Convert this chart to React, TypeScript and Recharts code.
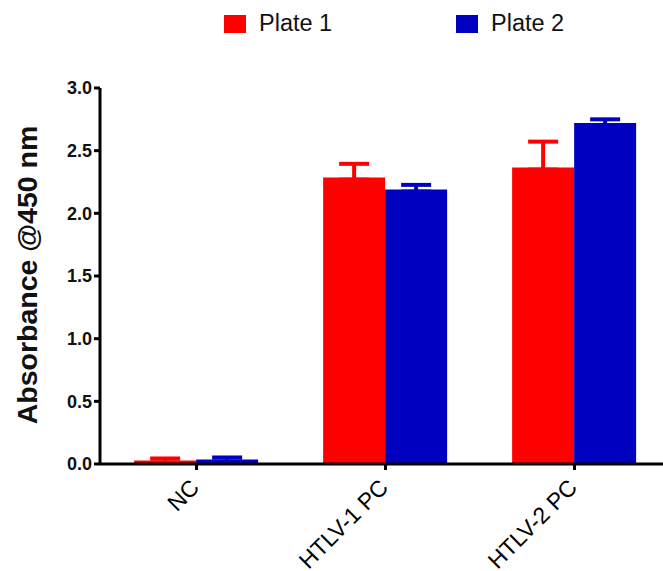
import React from 'react'
import { BarChart, Bar, XAxis, YAxis, ErrorBar, Legend } from 'recharts'

const categories = ['NC', 'HTLV-1 PC', 'HTLV-2 PC']
const plate1 = [0.027, 2.285, 2.365]
const plate2 = [0.035, 2.19, 2.72]
const plate1Err = [0.017, 0.11, 0.207]
const plate2Err = [0.017, 0.037, 0.03]
const yTicks = [0, 0.5, 1.0, 1.5, 2.0, 2.5, 3.0]

const RED = '#ff0000'
const BLUE = '#0000c0'
const FONT = '"Liberation Sans", Arial, sans-serif'

// errors only go upward; the small low side keeps the lower cap inside the bar
const data = categories.map((name, i) => ({
  name,
  plate1: plate1[i],
  plate2: plate2[i],
  err1: [0.016, plate1Err[i]],
  err2: [0.016, plate2Err[i]],
}))

function XTick(props: any) {
  const { x, y, payload } = props
  const tx = x + 4
  const ty = y + 17
  return (
    <text
      x={tx}
      y={ty}
      transform={`rotate(-45, ${tx}, ${ty})`}
      textAnchor="end"
      fontSize={23}
      fontFamily={FONT}
      fill="#000"
    >
      {payload.value}
    </text>
  )
}

function LegendBox(props: any) {
  const items = props.payload ?? []
  return (
    <div style={{ display: 'flex', paddingLeft: 224, fontFamily: FONT, fontSize: 23.5, color: '#111' }}>
      {items.map((it: any, i: number) => (
        <div key={i} style={{ display: 'flex', alignItems: 'center', width: i === 0 ? 232 : 'auto' }}>
          <span style={{ display: 'inline-block', width: 22, height: 18, background: it.color, marginRight: 13 }} />
          <span>{it.value}</span>
        </div>
      ))}
    </div>
  )
}

function YLabel() {
  return (
    <text
      x={37}
      y={275}
      transform="rotate(-90, 37, 275)"
      textAnchor="middle"
      fontSize={28.5}
      fontWeight="bold"
      fontFamily={FONT}
      fill="#111"
    >
      Absorbance @450 nm
    </text>
  )
}

export default function App() {
  return (
    <div style={{ position: 'absolute', left: 0, top: 0, width: 663, height: 571, overflow: 'hidden', background: '#fff' }}>
      <BarChart
        width={670}
        height={571}
        data={data}
        margin={{ top: 88, right: 0, left: 0, bottom: 0 }}
        barCategoryGap="17%"
        barGap={0}
      >
        <Legend
          verticalAlign="middle"
          content={<LegendBox />}
          wrapperStyle={{ top: 10, left: 0, width: 663 }}
        />
        <XAxis
          dataKey="name"
          height={107}
          padding={{ left: 2, right: 1 }}
          axisLine={{ stroke: '#000', strokeWidth: 3 }}
          tickLine={{ stroke: '#000', strokeWidth: 3 }}
          tickSize={6}
          tick={<XTick />}
          interval={0}
        />
        <YAxis
          width={100}
          domain={[0, 3]}
          ticks={yTicks}
          tickFormatter={(v: number) => v.toFixed(1)}
          axisLine={{ stroke: '#000', strokeWidth: 3 }}
          tickLine={{ stroke: '#000', strokeWidth: 3 }}
          tickSize={6}
          tick={{ fill: '#111', fontSize: 18, fontWeight: 'bold', fontFamily: FONT }}
          label={() => <YLabel />}
        />
        <Bar dataKey="plate1" name="Plate 1" fill={RED} isAnimationActive={false}>
          <ErrorBar dataKey="err1" width={15} strokeWidth={4} stroke={RED} direction="y" />
        </Bar>
        <Bar dataKey="plate2" name="Plate 2" fill={BLUE} isAnimationActive={false}>
          <ErrorBar dataKey="err2" width={15} strokeWidth={4} stroke={BLUE} direction="y" />
        </Bar>
      </BarChart>
    </div>
  )
}
